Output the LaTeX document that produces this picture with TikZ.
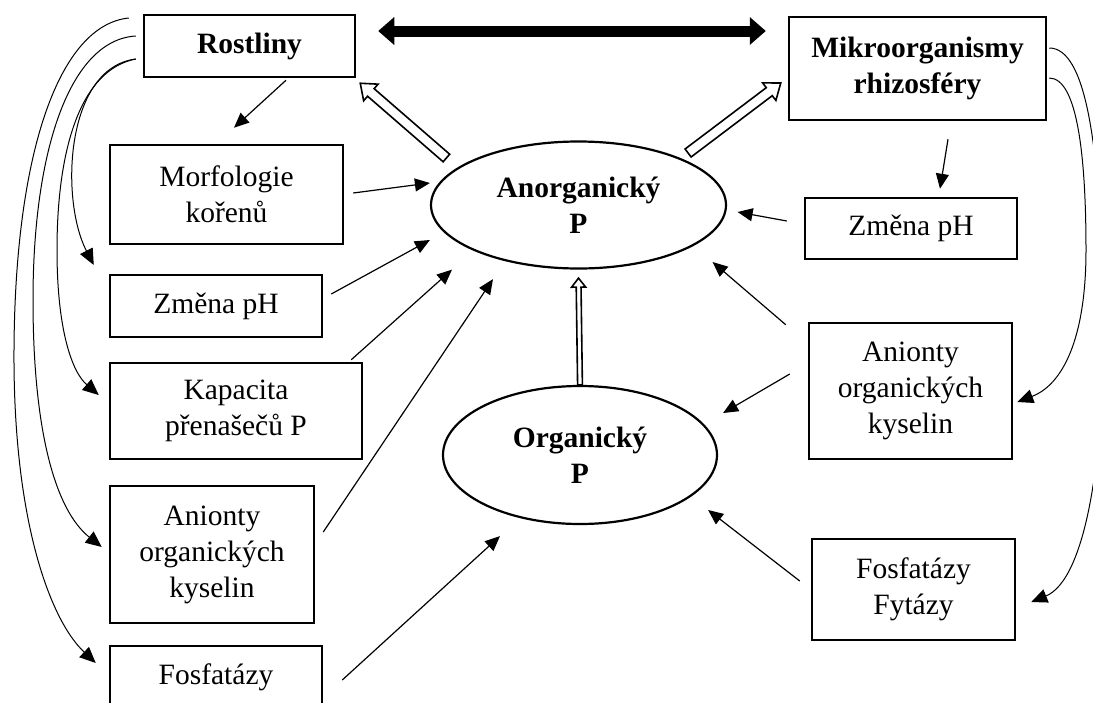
\documentclass[tikz,border=0pt]{standalone}
\usepackage{fontspec}
\setmainfont{Liberation Serif}
\usetikzlibrary{arrows.meta,calc,shapes.geometric}
\newcommand\dtxt{\fontsize{29.5}{36}\selectfont}
\tikzset{
  rbox/.style={draw, line width=2.5pt, inner sep=0pt, align=center, font=\dtxt},
  oval/.style={ellipse, draw, line width=2.2pt, inner sep=0pt, align=center, font=\dtxt\bfseries},
  thin/.style={line width=1.2pt, -{Triangle[length=15pt,width=13pt]}},
  curv/.style={line width=1pt, -{Triangle[length=16pt,width=14pt]}},
  bigarr/.style={line width=11pt, {Triangle[length=16pt,width=28pt,line width=0pt]}-{Triangle[length=16pt,width=28pt,line width=0pt]}},
  hollowline/.style={draw, line width=1.6pt, fill=white, line join=miter}
}
\newcommand\hollowarr[5]{%
  \draw[hollowline] let \p1=(#1), \p2=(#2), \n1={atan2(\y2-\y1,\x2-\x1)}, \n2={veclen(\x2-\x1,\y2-\y1)-#5} in
    ($(\p1)+(\n1+90:#3pt)$) -- ($(\p1)+(\n1:\n2)+(\n1+90:#3pt)$) -- ($(\p1)+(\n1:\n2)+(\n1+90:#4pt)$) -- (\p2)
    -- ($(\p1)+(\n1:\n2)+(\n1-90:#4pt)$) -- ($(\p1)+(\n1:\n2)+(\n1-90:#3pt)$) -- ($(\p1)+(\n1-90:#3pt)$) -- cycle;}
\begin{document}
\begin{tikzpicture}[x=1pt,y=-1pt]
\useasboundingbox (0,0) rectangle (1093,702);
\clip (0,0) rectangle (1093,702);
\fill[white] (0,0) rectangle (1093,702);
% left boxes
\node[rbox, minimum width=211, minimum height=62, font=\dtxt\bfseries] (rost) at (249.5,46) {Rostliny};
\node[rbox, minimum width=233, minimum height=99] (morf) at (226.5,194.5) {Morfologie\\kořenů};
\node[rbox, minimum width=212, minimum height=62] (phL) at (216,306) {Změna pH};
\node[rbox, minimum width=252, minimum height=96] (kap) at (236,411) {Kapacita\\přenašečů P};
\node[rbox, minimum width=204, minimum height=137] (anL) at (212,554.5) {Anionty\\organických\\kyselin};
\node[rbox, minimum width=212, minimum height=62] (fosL) at (216,677) {Fosfatázy};
% right boxes
\node[rbox, minimum width=257, minimum height=103, font=\dtxt\bfseries] (mikro) at (917.5,68.5) {Mikroorganismy\\rhizosféry};
\node[rbox, minimum width=212, minimum height=61] (phR) at (911,228.5) {Změna pH};
\node[rbox, minimum width=203, minimum height=136] (anR) at (910.5,391) {Anionty\\organických\\kyselin};
\node[rbox, minimum width=203, minimum height=101] (fosR) at (913.5,589.5) {Fosfatázy\\Fytázy};
% ellipses
\node[oval, minimum width=295, minimum height=127] (anorg) at (578.5,205) {Anorganický\\P};
\node[oval, minimum width=274, minimum height=138] (org) at (580,455) {Organický\\P};
% big double arrow
\draw[bigarr] ([shift={(22,-15)}]rost.east) -- ([shift={(-22,-37.5)}]mikro.west);
% hollow arrows
\hollowarr{[shift={(16.5,-47)}]anorg.west}{[shift={(4,5)}]rost.south east}{5}{11}{14}
\hollowarr{[shift={(-39,-52)}]anorg.east}{[shift={(-7,14.5)}]mikro.west}{5}{11}{14}
\hollowarr{[shift={(0,0)}]org.north}{[shift={(0,8.5)}]anorg.south}{2.4}{7}{9}
% thin arrows left
\draw[thin] ([shift={(36.5,2)}]rost.south) -- ([shift={(7.5,-16)}]morf.north);
\draw[thin] ([shift={(9,-1.5)}]morf.east) -- ([shift={(0,-22)}]anorg.west);
\draw[thin] ([shift={(8,-12)}]phL.east) -- ([shift={(0,35)}]anorg.west);
\draw[thin] ([shift={(-12,-2)}]kap.north east) -- ([shift={(-126.5,0)}]anorg.south);
\draw[thin] ([shift={(8,-22.5)}]anL.east) -- ([shift={(-85.5,9.5)}]anorg.south);
\draw[thin] ([shift={(19,3)}]fosL.east) -- ([shift={(-80,11)}]org.south);
% thin arrows right
\draw[thin] ([shift={(30.5,18)}]mikro.south) -- ([shift={(29,-8)}]phR.north);
\draw[thin] ([shift={(-17,-7.5)}]phR.west) -- ([shift={(10.5,7)}]anorg.east);
\draw[thin] ([shift={(-22,3)}]anR.north west) -- ([shift={(-14.5,57)}]anorg.east);
\draw[thin] ([shift={(-18,-17)}]anR.west) -- ([shift={(5,-42)}]org.east);
\draw[thin] ([shift={(-11,-8.5)}]fosR.west) -- ([shift={(-10,55)}]org.east);
% curved arrows left
\draw[curv] ([shift={(-14,-28)}]rost.west) .. controls (60,25) and (15,150) .. (14,350) .. controls (13,520) and (50,620) .. ([shift={(-13,-14)}]fosL.west);
\draw[curv] ([shift={(-7,-10)}]rost.west) .. controls (70,40) and (33,150) .. (33,300) .. controls (33,430) and (55,510) .. ([shift={(-7,-7.5)}]anL.west);
\draw[curv] ([shift={(-7,13)}]rost.west) .. controls (80,70) and (57,150) .. (57,250) .. controls (57,330) and (72,372) .. ([shift={(-10,-16)}]kap.west);
\draw[curv] ([shift={(-7,13)}]rost.west) .. controls (65,68) and (60,200) .. ([shift={(-15,-41)}]phL.west);
% curved arrows right
\draw[curv] ([shift={(2,-20.5)}]mikro.east) .. controls (1085,48) and (1100,140) .. (1103,300) .. controls (1106,460) and (1085,580) .. ([shift={(15,12.5)}]fosR.east);
\draw[curv] ([shift={(2,9.5)}]mikro.east) .. controls (1078,78) and (1086,160) .. (1086,250) .. controls (1086,340) and (1062,385) .. ([shift={(4,11)}]anR.east);
\end{tikzpicture}
\end{document}
